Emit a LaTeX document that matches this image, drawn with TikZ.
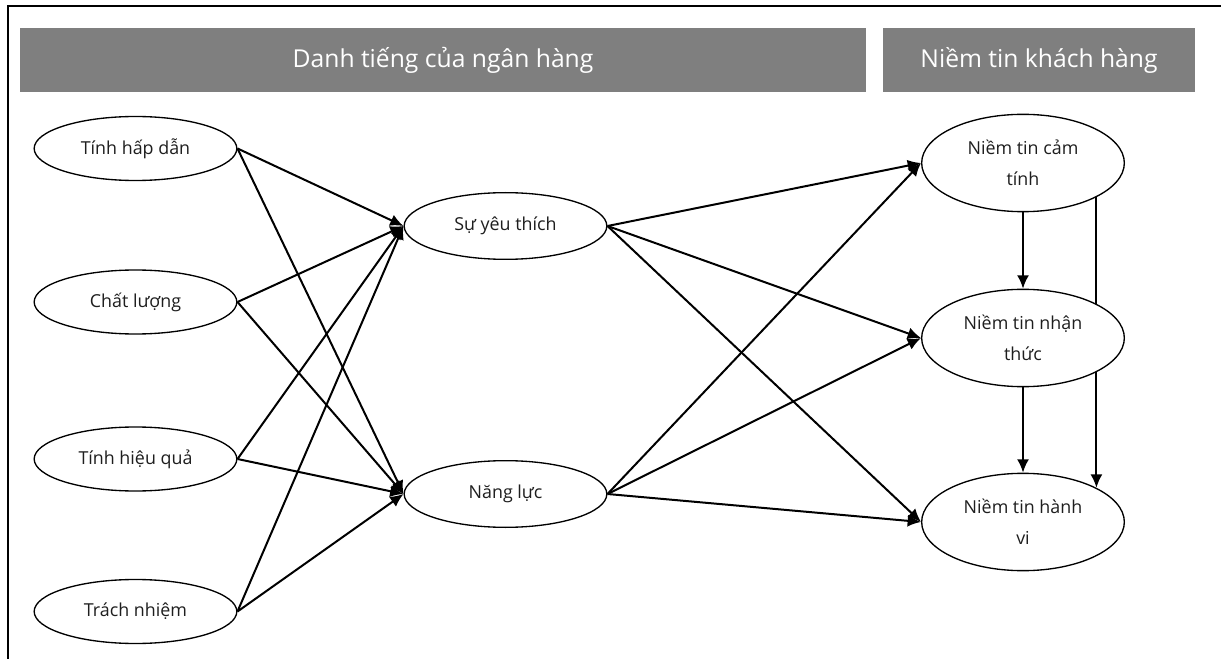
\documentclass[tikz,border=0pt]{standalone}
\usepackage{fontspec}
\setmainfont{Open Sans}
\usetikzlibrary{shapes.geometric,arrows.meta}
\definecolor{hdr}{RGB}{127,127,127}
\definecolor{txt}{RGB}{30,30,30}
\tikzset{
  ell/.style={ellipse, draw=black, line width=1pt, fill=white, inner sep=0pt,
    minimum width=152pt, minimum height=48pt, text=txt,
    font=\fontsize{13.4}{15}\selectfont},
  bigell/.style={ell, minimum height=73pt, align=center,
    font=\fontsize{13.4}{23}\selectfont},
  hdrbox/.style={rectangle, fill=hdr, inner sep=0pt, minimum height=48pt,
    text=white, font=\fontsize{18.5}{22}\selectfont},
  arr/.style={line width=1.5pt, -{Latex[length=10pt,width=9pt]}},
  ln/.style={line width=1.5pt},
  frame/.style={line width=1.5pt}
}
\begin{document}
\begin{tikzpicture}[x=0.75pt,y=-0.75pt]
\useasboundingbox (0,0) rectangle (1221,659);
\coordinate (fa) at (8,659);
\coordinate (fb) at (8,6);
\coordinate (fc) at (1221,6);
\draw[frame] (fa) -- (fb) -- (fc);

\node[hdrbox, minimum width=634.5pt] (h1) at (443,60) {Danh tiếng của ngân hàng};
\node[hdrbox, minimum width=234pt] (h2) at (1039,60) {Niềm tin khách hàng};

\node[ell] (a1) at (135.5,148.5) {Tính hấp dẫn};
\node[ell] (a2) at (135.5,302) {Chất lượng};
\node[ell] (a3) at (135.5,459) {Tính hiệu quả};
\node[ell] (a4) at (135.5,611.5) {Trách nhiệm};

\node[ell, minimum height=50pt] (m1) at (505.5,226) {Sự yêu thích};
\node[ell, minimum height=50pt] (m2) at (505.5,494) {Năng lực};

\node[bigell] (r1) at (1023,163) {Niềm tin cảm\\tính};
\node[bigell] (r2) at (1023,338) {Niềm tin nhận\\thức};
\node[bigell] (r3) at (1023,522) {Niềm tin hành\\vi};

\foreach \s in {a1,a2,a3,a4}{
  \draw[arr] (\s.east) -- (m1.west);
  \draw[arr] (\s.east) -- (m2.west);
}
\foreach \s in {m1,m2}{
  \foreach \t in {r1,r2,r3}{
    \draw[arr] (\s.east) -- (\t.west);
  }
}
\draw[arr] (r1.south) -- (r2.north);
\draw[arr] (r2.south) -- (r3.north);
\draw[ln] (r1.-25.9) -- (r2.25.9);
\draw[arr] (r2.-25.9) -- (r3.25.9);
\end{tikzpicture}
\end{document}
